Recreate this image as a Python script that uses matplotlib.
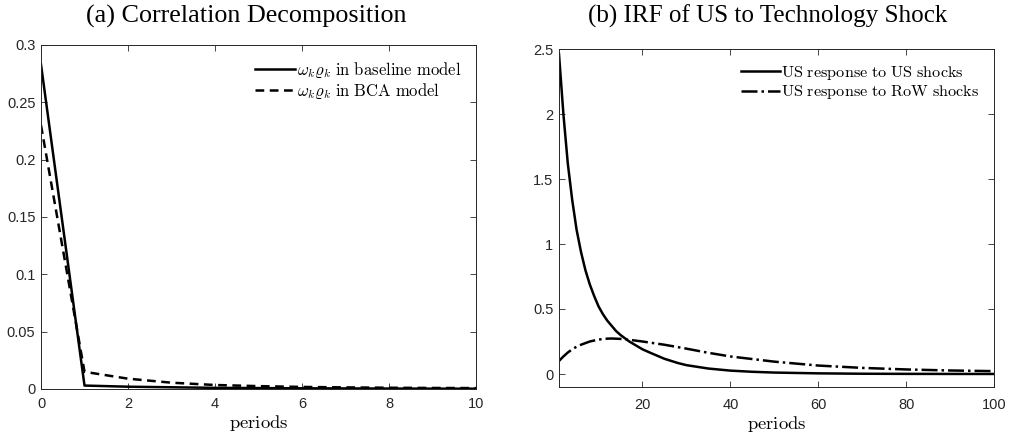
import matplotlib
matplotlib.use("Agg")
import matplotlib.pyplot as plt

plt.rcParams['mathtext.fontset'] = 'cm'

# ---- Panel (a) data ----
k_periods = [0, 1, 2, 3, 4, 5, 6, 7, 8, 9, 10]
baseline = [0.283, 0.003, 0.002, 0.0015, 0.001, 0.0008, 0.0006, 0.0005, 0.0004, 0.0003, 0.0003]
bca = [0.230, 0.015, 0.009, 0.0055, 0.0035, 0.0025, 0.0018, 0.0014, 0.0011, 0.0009, 0.0008]

# ---- Panel (b) data ----
t_us = [1, 2, 3, 4, 5, 6, 7, 8, 9, 10, 11, 12, 13, 14, 15, 16, 17, 18, 19, 20,
        22, 25, 28, 30, 35, 40, 45, 50, 60, 70, 80, 90, 100]
us_to_us = [2.46, 2.00, 1.62, 1.34, 1.11, 0.94, 0.80, 0.69, 0.60, 0.52, 0.46, 0.41,
            0.37, 0.33, 0.30, 0.275, 0.25, 0.23, 0.21, 0.19,
            0.16, 0.117, 0.085, 0.068, 0.042, 0.026, 0.017, 0.011, 0.005, 0.002,
            0.001, 0.0005, 0.0002]
t_row = [1, 2, 3, 4, 5, 6, 8, 10, 12, 13, 15, 17, 20, 25, 30, 35, 40, 50, 60, 70, 80, 90, 100]
us_to_row = [0.10, 0.135, 0.165, 0.19, 0.21, 0.225, 0.25, 0.265, 0.272, 0.273, 0.27,
             0.263, 0.25, 0.225, 0.195, 0.163, 0.135, 0.095, 0.065, 0.047, 0.035,
             0.027, 0.022]

titles = ['(a) Correlation Decomposition', '(b) IRF of US to Technology Shock']
xlabel = r'$\mathrm{periods}$'
leg_a = [r'$\omega_k\varrho_k\ \mathrm{in\ baseline\ model}$',
         r'$\omega_k\varrho_k\ \mathrm{in\ BCA\ model}$']
leg_b = [r'$\mathrm{US\ response\ to\ US\ shocks}$',
         r'$\mathrm{US\ response\ to\ RoW\ shocks}$']

W, H = 1009, 437
fig = plt.figure(figsize=(W / 100, H / 100), dpi=100)
ax1 = fig.add_axes([41 / W, (H - 389) / H, 435 / W, 344 / H])
ax2 = fig.add_axes([559 / W, (H - 387) / H, 435 / W, 338 / H])

spine_col = '#262626'

def style(ax, pad):
    for s in ax.spines.values():
        s.set_color(spine_col)
        s.set_linewidth(0.7)
    ax.tick_params(direction='in', top=True, right=True, length=4, width=0.6,
                   colors=spine_col, labelcolor='#262626', pad=4)
    ax.tick_params(axis='x', pad=pad)
    for lab in ax.get_xticklabels() + ax.get_yticklabels():
        lab.set_fontfamily('Liberation Sans')
        lab.set_fontsize(10.5)

ax1.plot(k_periods, baseline, color='black', lw=1.8, label=leg_a[0])
ax1.plot(k_periods, bca, color='black', lw=1.8, ls=(0, (3.5, 2.2)), label=leg_a[1])
ax1.set_xlim(0, 10)
ax1.set_ylim(0, 0.3)
ax1.set_xticks([0, 2, 4, 6, 8, 10])
ax1.set_yticks([0, 0.05, 0.1, 0.15, 0.2, 0.25, 0.3])
ax1.set_yticklabels(['0', '0.05', '0.1', '0.15', '0.2', '0.25', '0.3'])
style(ax1, 6)
ax1.set_xlabel(xlabel, fontsize=13.4, labelpad=1)
ax1.legend(loc='upper right', frameon=False, fontsize=12, handlelength=2.4,
           handletextpad=0.1, labelspacing=0.05, borderaxespad=0.5)

ax2.plot(t_us, us_to_us, color='black', lw=1.8, label=leg_b[0])
ax2.plot(t_row, us_to_row, color='black', lw=1.8, ls='-.', label=leg_b[1])
ax2.set_xlim(1, 100)
ax2.set_ylim(-0.1, 2.5)
ax2.set_xticks([20, 40, 60, 80, 100])
ax2.set_yticks([0, 0.5, 1, 1.5, 2, 2.5])
ax2.set_yticklabels(['0', '0.5', '1', '1.5', '2', '2.5'])
style(ax2, 8)
ax2.set_xlabel(xlabel, fontsize=13.4, labelpad=1.5)
ax2.legend(loc='upper right', frameon=False, fontsize=11.7, handlelength=2.4,
           handletextpad=0.1, labelspacing=0.1, borderaxespad=0.5)

fig.text(246 / W, 1 - 16 / H, titles[0], ha='center', va='center',
         fontfamily='Liberation Serif', fontsize=18.8)
fig.text(768 / W, 1 - 16 / H, titles[1], ha='center', va='center',
         fontfamily='Liberation Serif', fontsize=18.1)

fig.savefig('out.png', dpi=100)
